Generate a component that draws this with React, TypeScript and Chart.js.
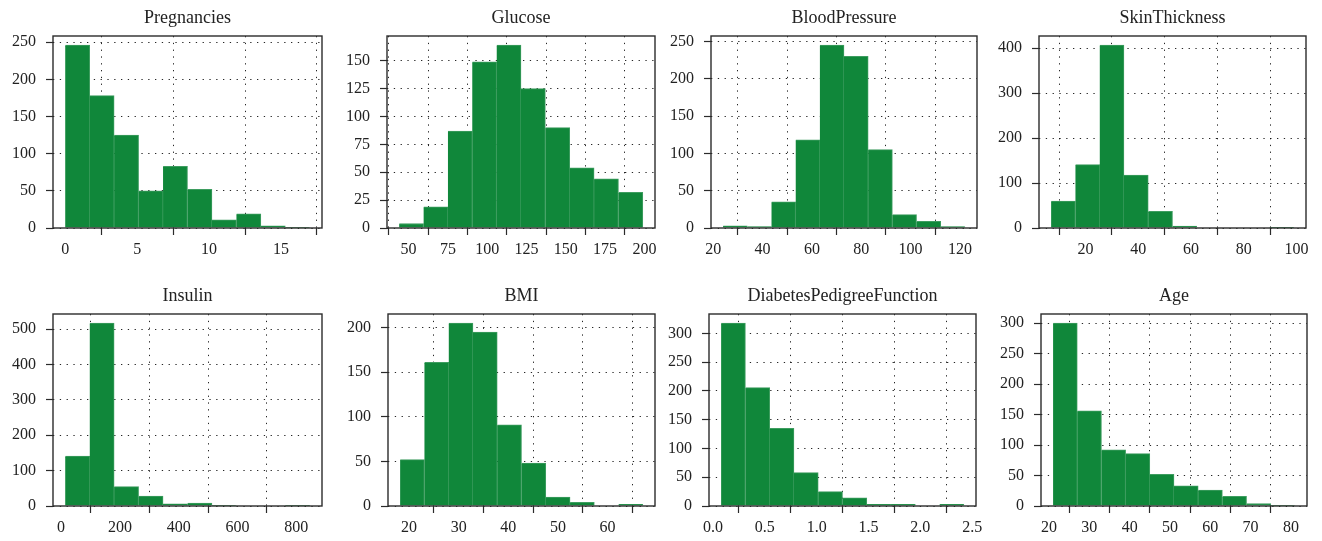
import React, { useEffect, useRef } from "react";
import { Chart, registerables } from "chart.js";

Chart.register(...registerables);

// ---- Data ----
const panelTitles = [
  "Pregnancies",
  "Glucose",
  "BloodPressure",
  "SkinThickness",
  "Insulin",
  "BMI",
  "DiabetesPedigreeFunction",
  "Age",
];

// histogram counts (10 equal-width bins each)
const pregnanciesCounts = [246, 178, 125, 50, 83, 52, 11, 19, 3, 1];
const glucoseCounts = [4, 19, 87, 149, 164, 125, 90, 54, 44, 32];
const bloodPressureCounts = [3, 2, 35, 118, 245, 230, 105, 18, 9, 2];
const skinThicknessCounts = [60, 141, 407, 118, 37, 4, 0, 0, 0, 1];
const insulinCounts = [141, 517, 55, 28, 6, 8, 2, 0, 0, 1];
const bmiCounts = [52, 161, 205, 195, 91, 48, 10, 4, 0, 2];
const pedigreeCounts = [318, 206, 135, 58, 25, 14, 3, 3, 0, 3];
const ageCounts = [300, 156, 92, 86, 52, 33, 26, 16, 4, 1];

// data range of each variable (first / last bin edge)
const rangeMin = [0, 44, 24, 7, 14, 18.2, 0.078, 21];
const rangeMax = [17, 199, 122, 99, 846, 67.1, 2.42, 81];

// tick steps
const xTickSteps = [5, 25, 20, 20, 200, 10, 0.5, 10];
const yTickSteps = [50, 25, 50, 100, 100, 50, 50, 50];
const xTickDecimals = [0, 0, 0, 0, 0, 0, 1, 0];

const allCounts = [
  pregnanciesCounts,
  glucoseCounts,
  bloodPressureCounts,
  skinThicknessCounts,
  insulinCounts,
  bmiCounts,
  pedigreeCounts,
  ageCounts,
];

// ---- Layout (pixel geometry of each panel) ----
const cellLeft = [0, 330, 660, 990, 0, 330, 660, 990];
const cellTop = [0, 0, 0, 0, 270, 270, 270, 270];
const cellWidth = [330, 330, 330, 332, 330, 330, 330, 332];
const cellHeight = [270, 270, 270, 270, 271, 271, 271, 271];
const plotLeft = [53, 387, 711, 1039, 53, 388, 709, 1041];
const plotRight = [322, 655, 977, 1306, 322, 655, 976, 1307];
const plotBottom = [228, 228, 228, 228, 506, 506, 506, 506];
const rowTopPad = [0, 0, 0, 0, 8, 8, 8, 8];
const X_AXIS_H = 30;

const FONT = "'Liberation Serif', 'DejaVu Serif', 'Times New Roman', serif";
const BAR_COLOR = "#10873a";
const BAR_EDGE = "#3e9d60";
const TEXT_COLOR = "#222";

const framePlugin = {
  id: "frame",
  afterDatasetsDraw(chart: any) {
    const { ctx, chartArea: a } = chart;
    ctx.save();
    ctx.strokeStyle = "#2b2b2b";
    ctx.lineWidth = 1.4;
    ctx.strokeRect(a.left, a.top, a.right - a.left, a.bottom - a.top);
    ctx.restore();
  },
};

function Panel({ idx }: { idx: number }) {
  const ref = useRef<HTMLCanvasElement | null>(null);
  useEffect(() => {
    if (!ref.current) return;
    const counts = allCounts[idx];
    const lo = rangeMin[idx];
    const hi = rangeMax[idx];
    const binW = (hi - lo) / counts.length;
    const pad = (hi - lo) * 0.05;
    const yMax = Math.max(...counts) * 1.05;
    const data = counts.map((c, i) => ({ x: lo + (i + 0.5) * binW, y: c }));
    const yw = plotLeft[idx] - cellLeft[idx];
    const rightPad = cellLeft[idx] + cellWidth[idx] - plotRight[idx];
    const bottomPad = cellTop[idx] + cellHeight[idx] - plotBottom[idx] - X_AXIS_H;
    const dec = xTickDecimals[idx];

    const gridOpts = {
      color: "rgba(0,0,0,0.85)",
      lineWidth: 1,
      drawTicks: true,
      tickLength: 7,
      tickColor: "#2b2b2b",
      tickWidth: 1.2,
      tickBorderDash: [],
    };

    const chart = new Chart(ref.current, {
      type: "bar",
      data: {
        datasets: [
          {
            data: data as any,
            backgroundColor: BAR_COLOR,
            borderColor: BAR_EDGE,
            borderWidth: { top: 1, right: 1, left: 0, bottom: 0 },
            borderSkipped: false,
            barPercentage: 1,
            categoryPercentage: 1,
          },
        ],
      },
      plugins: [framePlugin],
      options: {
        animation: false,
        responsive: false,
        maintainAspectRatio: false,
        devicePixelRatio: 1,
        events: [],
        layout: {
          padding: { top: rowTopPad[idx], left: 0, right: rightPad, bottom: bottomPad },
        },
        plugins: {
          legend: { display: false },
          tooltip: { enabled: false },
          title: {
            display: true,
            text: panelTitles[idx],
            fullSize: false,
            color: TEXT_COLOR,
            font: { family: FONT, size: 18, weight: "normal", lineHeight: 1.2 },
            padding: { top: 7.2, bottom: 7.2 },
          },
        },
        scales: {
          x: {
            type: "linear",
            min: lo - pad,
            max: hi + pad,
            offset: false,
            bounds: "ticks",
            grid: gridOpts,
            border: { display: false, dash: [1.3, 5.5] },
            ticks: {
              stepSize: xTickSteps[idx],
              includeBounds: false,
              maxRotation: 0,
              autoSkip: false,
              padding: 5,
              color: TEXT_COLOR,
              font: { family: FONT, size: 16 },
              callback: (v: any) => Number(v).toFixed(dec),
            },
            afterFit: (s: any) => {
              s.height = X_AXIS_H;
              s.paddingLeft = 0;
              s.paddingRight = 0;
            },
          },
          y: {
            type: "linear",
            min: 0,
            max: yMax,
            bounds: "ticks",
            grid: gridOpts,
            border: { display: false, dash: [1.3, 5.5] },
            ticks: {
              stepSize: yTickSteps[idx],
              includeBounds: false,
              padding: 10,
              color: TEXT_COLOR,
              font: { family: FONT, size: 16 },
              callback: (v: any) => String(Math.round(Number(v))),
            },
            afterFit: (s: any) => {
              s.width = yw;
              s.paddingTop = 0;
              s.paddingBottom = 0;
            },
          },
        },
      },
    } as any);
    return () => chart.destroy();
  }, [idx]);

  return (
    <canvas
      ref={ref}
      width={cellWidth[idx]}
      height={cellHeight[idx]}
      style={{
        position: "absolute",
        left: cellLeft[idx],
        top: cellTop[idx],
        width: cellWidth[idx],
        height: cellHeight[idx],
      }}
    />
  );
}

export default function App() {
  return (
    <div
      style={{
        position: "absolute",
        left: 0,
        top: 0,
        width: 1322,
        height: 541,
        background: "#fff",
      }}
    >
      {panelTitles.map((_, i) => (
        <Panel key={i} idx={i} />
      ))}
    </div>
  );
}
